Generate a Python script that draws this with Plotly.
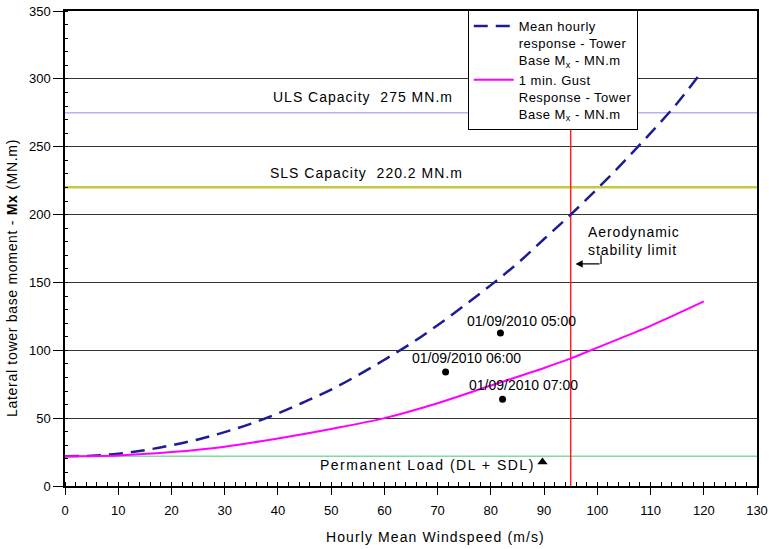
import plotly.graph_objects as go

# Mean hourly response (dashed navy)
mean_x = [0, 5, 10, 15, 20, 25, 30, 35, 40, 45, 50, 55, 60, 65, 70, 75, 80, 85, 90, 95, 100, 105, 110, 115, 119]
mean_y = [22, 22.3, 23.8, 26.4, 30, 34.3, 39.7, 46, 53.5, 62, 71, 81.6, 93, 105, 118.5, 133, 148, 164, 182, 200, 219, 239, 260, 282, 302]

# 1 min gust response (magenta)
gust_x = [0, 10, 20, 30, 40, 50, 60, 70, 80, 90, 95, 100, 110, 120]
gust_y = [22, 22.5, 25, 29, 35, 42, 50, 61, 74, 87, 94, 102, 118, 136]

# Observations
obs_x = [81.8, 71.5, 82.2]
obs_y = [112.7, 84, 64]
obs_labels = ["01/09/2010 05:00", "01/09/2010 06:00", "01/09/2010 07:00"]
obs_label_x = [85.8, 75.4, 86.1]
obs_label_y = [121.6, 94, 74.4]

# Reference levels
uls_capacity = 275
sls_capacity = 220.2
permanent_load = 22
perm_marker_x = [89.7]
perm_marker_y = [17.7]
aero_limit = 95

x_range = [0, 130]
y_range = [0, 350]

font = "Liberation Sans, Arial, sans-serif"


def spaced(text, px):
    return '<span style="letter-spacing:%spx">%s</span>' % (px, text)


fig = go.Figure()

# Horizontal reference lines as traces
fig.add_trace(go.Scatter(x=x_range, y=[uls_capacity] * 2, mode="lines",
                         line=dict(color="#b4b4f4", width=1.5), showlegend=False, hoverinfo="skip"))
fig.add_trace(go.Scatter(x=x_range, y=[sls_capacity] * 2, mode="lines",
                         line=dict(color="#c8c83c", width=2.5), showlegend=False, hoverinfo="skip"))
fig.add_trace(go.Scatter(x=x_range, y=[permanent_load] * 2, mode="lines",
                         line=dict(color="#7fdc9c", width=1.5), showlegend=False, hoverinfo="skip"))
fig.add_trace(go.Scatter(x=[aero_limit] * 2, y=y_range, mode="lines",
                         line=dict(color="#ff2020", width=1.5), showlegend=False, hoverinfo="skip"))

fig.add_trace(go.Scatter(x=mean_x, y=mean_y, mode="lines", line_shape="spline",
                         name=spaced("Mean hourly<br>response - Tower<br>Base M<sub>x</sub> - MN.m", 0.5),
                         line=dict(color="#1c1c96", width=2.5, dash="14px,8px")))
fig.add_trace(go.Scatter(x=gust_x, y=gust_y, mode="lines", line_shape="spline",
                         name=spaced("1 min. Gust<br>Response - Tower<br>Base M<sub>x</sub> - MN.m", 0.5),
                         line=dict(color="#ff00ff", width=2)))

fig.add_trace(go.Scatter(x=obs_x, y=obs_y, mode="markers",
                         marker=dict(color="black", size=7), showlegend=False))
fig.add_trace(go.Scatter(x=perm_marker_x, y=perm_marker_y, mode="markers",
                         marker=dict(color="black", size=9, symbol="triangle-up"), showlegend=False))

for lx, ly, t in zip(obs_label_x, obs_label_y, obs_labels):
    fig.add_annotation(x=lx, y=ly, text=t, showarrow=False,
                       font=dict(family=font, size=14, color="black"))

fig.add_annotation(x=56, y=286.6, text=spaced("ULS Capacity  275 MN.m", 1.0), showarrow=False,
                   font=dict(family=font, size=14, color="black"))
fig.add_annotation(x=56.6, y=231, text=spaced("SLS Capacity  220.2 MN.m", 1.0), showarrow=False,
                   font=dict(family=font, size=14, color="black"))
fig.add_annotation(x=68.1, y=15.5, text=spaced("Permanent Load (DL + SDL)", 1.5), showarrow=False,
                   font=dict(family=font, size=14, color="black"))
fig.add_annotation(x=97.9, y=180.5, text=spaced("Aerodynamic<br>stability limit", 0.9), showarrow=False,
                   xanchor="left", align="left",
                   font=dict(family=font, size=14, color="black"))

# Arrow towards the stability limit
fig.add_shape(type="line", x0=100.7, y0=170, x1=100.7, y1=163.6,
              line=dict(color="black", width=1.2))
fig.add_annotation(x=95.9, y=163.6, ax=100.7, ay=163.6, axref="x", ayref="y",
                   text="", showarrow=True, arrowhead=2, arrowsize=1.2, arrowwidth=1.2,
                   arrowcolor="black")

# Axis titles
fig.add_annotation(xref="paper", yref="paper", x=0.536, y=-0.107,
                   xanchor="center", yanchor="middle",
                   text=spaced("Hourly Mean Windspeed (m/s)", 1.1), showarrow=False,
                   font=dict(family=font, size=14, color="black"))
fig.add_annotation(xref="paper", yref="paper", x=-0.0766, y=0.438, textangle=-90,
                   xanchor="center", yanchor="middle",
                   text=spaced("Lateral tower base moment - <b>Mx</b> (MN.m)", 0.7), showarrow=False,
                   font=dict(family=font, size=14, color="black"))

fig.update_layout(
    width=769, height=549,
    margin=dict(l=65, r=12, t=11, b=63, autoexpand=False),
    paper_bgcolor="white", plot_bgcolor="white",
    font=dict(family=font, size=13, color="black"),
    legend=dict(x=0.582, y=1.002, xanchor="left", yanchor="top", valign="top",
                bgcolor="white", bordercolor="black", borderwidth=1,
                itemwidth=40, tracegroupgap=12,
                font=dict(family=font, size=13, color="black")),
)

fig.update_xaxes(range=x_range, dtick=10, showgrid=False, zeroline=False, automargin=False,
                 showline=True, linecolor="black", linewidth=1.5, mirror=True,
                 ticks="outside", ticklen=7, tickcolor="black", ticklabelstandoff=5,
                 ticklabeloverflow="allow",
                 minor=dict(dtick=2, ticks="inside", ticklen=4, tickcolor="black"),
                 tickfont=dict(family=font, size=13))
fig.update_yaxes(range=y_range, dtick=50, showgrid=True, gridcolor="#333333", gridwidth=1,
                 zeroline=False, automargin=False,
                 showline=True, linecolor="black", linewidth=1.5, mirror=True,
                 ticks="outside", ticklen=10, tickcolor="black", ticklabeloverflow="allow",
                 minor=dict(dtick=10, ticks="inside", ticklen=3, tickcolor="black", showgrid=False),
                 tickfont=dict(family=font, size=13))

fig.write_html("out.html", config={"displayModeBar": False},
               post_script="document.body.style.margin='0';")
